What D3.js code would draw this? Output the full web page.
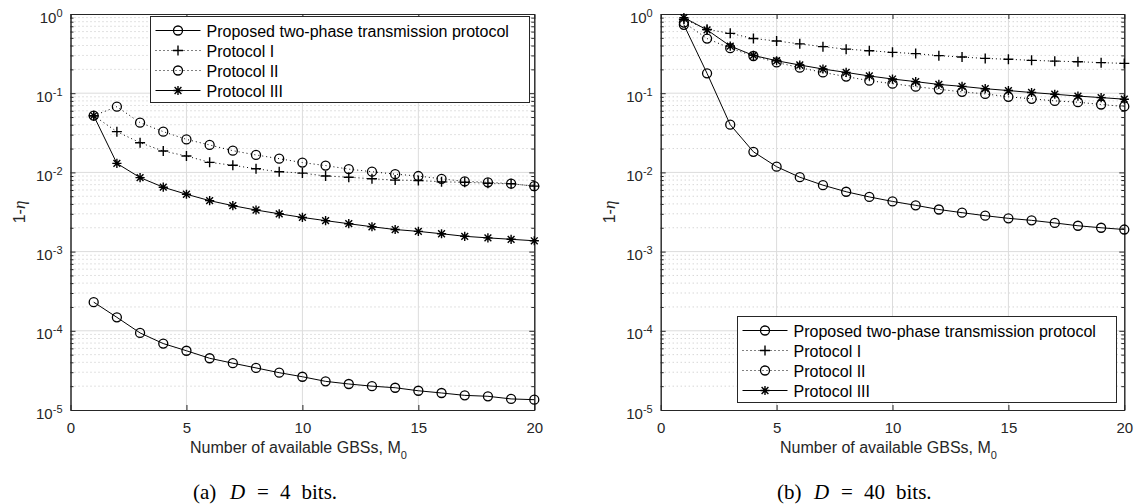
<!DOCTYPE html>
<html>
<head>
<meta charset="utf-8">
<script src="https://cdn.jsdelivr.net/npm/d3@7"></script>
<style>
  body { margin: 0; background: #fff; }
  svg { display: block; }
  text { font-family: "Liberation Sans", Arial, sans-serif; }
</style>
</head>
<body>
<svg id="chart" width="1135" height="504"></svg>
<script>
// x 값 (M0)
const mValues = d3.range(1, 21);

// (a) D = 4 bits
const aProposed = [2.3e-4, 1.48e-4, 9.4e-5, 6.9e-5, 5.6e-5, 4.5e-5, 3.9e-5, 3.4e-5, 2.96e-5, 2.63e-5,
  2.3e-5, 2.13e-5, 2.0e-5, 1.91e-5, 1.75e-5, 1.64e-5, 1.53e-5, 1.49e-5, 1.38e-5, 1.35e-5];
const aProtocol1 = [0.052, 0.0327, 0.0237, 0.0186, 0.0161, 0.0134, 0.0123, 0.0111, 0.0102, 0.0098,
  0.0090, 0.0087, 0.0083, 0.0080, 0.0079, 0.0076, 0.0075, 0.0073, 0.0072, 0.0067];
const aProtocol2 = [0.052, 0.0676, 0.0425, 0.0327, 0.0261, 0.0222, 0.0188, 0.0166, 0.0149, 0.0133,
  0.0122, 0.0110, 0.0102, 0.0095, 0.0090, 0.0083, 0.0077, 0.0075, 0.0072, 0.0067];
const aProtocol3 = [0.052, 0.0130, 0.0086, 0.0065, 0.0053, 0.0044, 0.0038, 0.00335, 0.0030, 0.0027,
  0.00246, 0.00225, 0.00206, 0.0019, 0.0018, 0.00168, 0.00156, 0.00149, 0.00143, 0.00137];

// (b) D = 40 bits
const bProposed = [0.73, 0.178, 0.040, 0.0182, 0.0118, 0.0087, 0.0069, 0.0057, 0.0049, 0.0043,
  0.00384, 0.0034, 0.0031, 0.00284, 0.00263, 0.00248, 0.0023, 0.00212, 0.0020, 0.0019];
const bProtocol1 = [0.86, 0.64, 0.57, 0.49, 0.456, 0.42, 0.387, 0.36, 0.344, 0.328,
  0.316, 0.298, 0.286, 0.275, 0.268, 0.26, 0.254, 0.25, 0.243, 0.238];
const bProtocol2 = [0.78, 0.49, 0.37, 0.295, 0.245, 0.21, 0.183, 0.162, 0.144, 0.132,
  0.121, 0.112, 0.104, 0.098, 0.090, 0.085, 0.080, 0.077, 0.072, 0.068];
const bProtocol3 = [0.90, 0.63, 0.394, 0.30, 0.257, 0.227, 0.202, 0.183, 0.165, 0.151,
  0.14, 0.129, 0.122, 0.114, 0.108, 0.102, 0.097, 0.092, 0.088, 0.084];

// 범례 / 축 텍스트
const seriesNames = ["Proposed two-phase transmission protocol", "Protocol I", "Protocol II", "Protocol III"];
const seriesStyles = [
  { marker: "circle", dash: null },
  { marker: "plus", dash: "1,3" },
  { marker: "circle", dash: "1,3" },
  { marker: "star", dash: null }
];
const xTicks = [0, 5, 10, 15, 20];
const yExponents = [0, -1, -2, -3, -4, -5];

const svg = d3.select("#chart");
const plotTop = 14, plotBottom = 410;
const ink = "#000";
const axisColor = "#262626";
const labelColor = "#262626";

// 마커 그리기
function drawMarker(g, type, x, y) {
  if (type === "circle") {
    g.append("circle").attr("cx", x).attr("cy", y).attr("r", 4.5)
      .attr("fill", "none").attr("stroke", ink).attr("stroke-width", 1.3);
  } else if (type === "plus") {
    g.append("path").attr("d", `M${x - 5},${y}H${x + 5}M${x},${y - 5}V${y + 5}`)
      .attr("stroke", ink).attr("stroke-width", 1.4);
  } else {
    const s = 4.6, d = 3.4;
    g.append("path")
      .attr("d", `M${x - s},${y}H${x + s}M${x},${y - s}V${y + s}M${x - d},${y - d}L${x + d},${y + d}M${x - d},${y + d}L${x + d},${y - d}`)
      .attr("stroke", ink).attr("stroke-width", 1.4);
  }
}

function drawPanel(left, right, series, legendBox, captionX, captionLabel, captionD) {
  const x = d3.scaleLinear().domain([0, 20]).range([left, right]);
  const y = d3.scaleLog().domain([1e-5, 1]).range([plotBottom, plotTop]);
  const g = svg.append("g");

  // 보조 격자 (점선)
  const minor = [];
  yExponents.slice(0, 5).forEach(e => {
    for (let k = 2; k <= 9; k++) minor.push(k * Math.pow(10, e - 1));
  });
  g.selectAll(".minor").data(minor).enter().append("line")
    .attr("x1", left).attr("x2", right)
    .attr("y1", d => y(d)).attr("y2", d => y(d))
    .attr("stroke", "#c4c4c4").attr("stroke-width", 1).attr("stroke-dasharray", "1,3");

  // 주 격자
  g.selectAll(".majorY").data(yExponents.slice(1, 5)).enter().append("line")
    .attr("x1", left).attr("x2", right)
    .attr("y1", d => y(Math.pow(10, d))).attr("y2", d => y(Math.pow(10, d)))
    .attr("stroke", "#dcdcdc").attr("stroke-width", 1);
  g.selectAll(".majorX").data(xTicks.slice(1, 4)).enter().append("line")
    .attr("x1", d => x(d)).attr("x2", d => x(d))
    .attr("y1", plotTop).attr("y2", plotBottom)
    .attr("stroke", "#dcdcdc").attr("stroke-width", 1);

  // 축
  const xAxis = g.append("g").attr("transform", `translate(0,${plotBottom})`)
    .call(d3.axisBottom(x).tickValues(xTicks).tickSize(-5).tickSizeOuter(0));
  xAxis.selectAll("path,line").attr("stroke", axisColor);
  xAxis.selectAll("text").attr("fill", labelColor).style("font-size", "15px")
    .attr("y", 23).attr("dy", 0);

  g.append("g").attr("transform", `translate(0,${plotTop})`)
    .call(d3.axisTop(x).tickValues(xTicks).tickSize(-5).tickFormat("").tickSizeOuter(0))
    .call(a => a.selectAll("path,line").attr("stroke", axisColor));

  const yAxis = g.append("g").attr("transform", `translate(${left},0)`)
    .call(d3.axisLeft(y).tickValues(yExponents.map(e => Math.pow(10, e))).tickSize(-5).tickSizeOuter(0)
      .tickFormat(""));
  yAxis.selectAll("path,line").attr("stroke", axisColor);
  yAxis.selectAll(".tick").each(function(d) {
    const t = d3.select(this).append("text").attr("fill", labelColor)
      .attr("x", -8).attr("y", 8).attr("text-anchor", "end").style("font-size", "15px");
    t.append("tspan").text("10");
    t.append("tspan").attr("dy", -6).style("font-size", "11px").text(Math.round(Math.log10(d)));
  });
  g.append("g").attr("transform", `translate(${left},0)`)
    .call(d3.axisLeft(y).tickValues(minor).tickSize(-3).tickFormat(""))
    .call(a => a.selectAll("path,line").attr("stroke", axisColor));

  g.append("g").attr("transform", `translate(${right},0)`)
    .call(d3.axisRight(y).tickValues(yExponents.map(e => Math.pow(10, e))).tickSize(-5).tickFormat("").tickSizeOuter(0))
    .call(a => a.selectAll("path,line").attr("stroke", axisColor));
  g.append("g").attr("transform", `translate(${right},0)`)
    .call(d3.axisRight(y).tickValues(minor).tickSize(-3).tickFormat(""))
    .call(a => a.selectAll("path,line").attr("stroke", axisColor));

  // 선과 마커
  const line = d3.line().x((d, i) => x(mValues[i])).y(d => y(d));
  series.forEach((vals, si) => {
    const st = seriesStyles[si];
    g.append("path").attr("d", line(vals)).attr("fill", "none")
      .attr("stroke", ink).attr("stroke-width", 1)
      .attr("stroke-dasharray", st.dash);
    const mg = g.append("g");
    vals.forEach((v, i) => drawMarker(mg, st.marker, x(mValues[i]), y(v)));
  });

  // 축 레이블
  const xl = g.append("text").attr("x", (left + right) / 2 - 4).attr("y", 453)
    .attr("text-anchor", "middle").attr("fill", labelColor).style("font-size", "16px");
  xl.append("tspan").text("Number of available GBSs, M");
  xl.append("tspan").attr("dy", 6).style("font-size", "11px").text("0");

  const yl = g.append("text").attr("transform", `translate(${left - 46},${(plotTop + plotBottom) / 2}) rotate(-90)`)
    .attr("text-anchor", "middle").attr("fill", labelColor).style("font-size", "16px");
  yl.append("tspan").text("1-");
  yl.append("tspan").style("font-family", "'Liberation Serif', serif").style("font-style", "italic")
    .style("font-size", "17px").text("η");

  // 범례
  const lg = g.append("g").attr("transform", `translate(${legendBox.x},${legendBox.y})`);
  lg.append("rect").attr("width", legendBox.w).attr("height", legendBox.h)
    .attr("fill", "#fff").attr("stroke", axisColor).attr("stroke-width", 1);
  seriesNames.forEach((name, i) => {
    const ry = 14 + i * 20;
    lg.append("line").attr("x1", 5).attr("x2", 50).attr("y1", ry).attr("y2", ry)
      .attr("stroke", ink).attr("stroke-width", 1).attr("stroke-dasharray", seriesStyles[i].dash);
    drawMarker(lg, seriesStyles[i].marker, 27.5, ry);
    lg.append("text").attr("x", 56).attr("y", ry + 6).attr("fill", "#000")
      .style("font-size", "16px").text(name);
  });

  // 캡션 (LaTeX 스타일)
  const cap = svg.append("text").attr("y", 499)
    .style("font-family", "'Liberation Serif', 'Times New Roman', serif").style("font-size", "21px");
  cap.append("tspan").attr("x", captionX).text(captionLabel);
  cap.append("tspan").attr("x", captionX + 37).style("font-style", "italic").text("D");
  cap.append("tspan").attr("x", captionX + 64).text("=");
  cap.append("tspan").attr("x", captionX + 87).text(captionD);
  cap.append("tspan").attr("x", captionX + 87 + captionD.length * 10.5 + 11).text("bits.");
}

drawPanel(70.5, 534.3, [aProposed, aProtocol1, aProtocol2, aProtocol3],
  { x: 150.5, y: 16.5, w: 379, h: 86 }, 193, "(a)", "4");
drawPanel(660.7, 1124.3, [bProposed, bProtocol1, bProtocol2, bProtocol3],
  { x: 737.5, y: 316.5, w: 379, h: 86 }, 777, "(b)", "40");
</script>
</body>
</html>
